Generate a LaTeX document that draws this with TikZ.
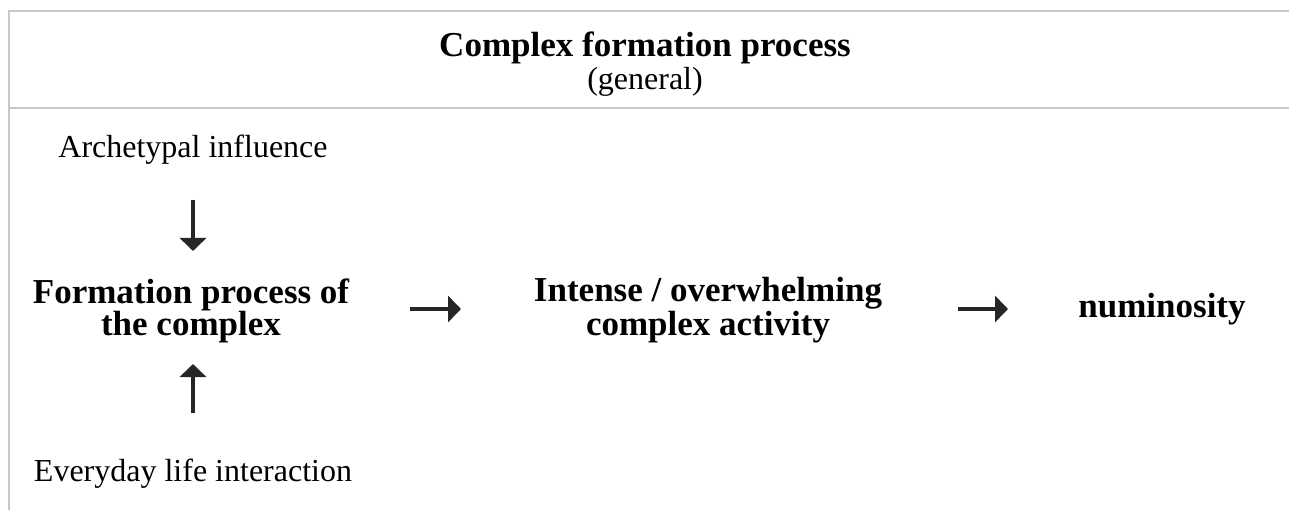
\documentclass[tikz,border=0pt]{standalone}
\usepackage{fontspec}
\setmainfont{Liberation Serif}
\usetikzlibrary{arrows.meta}
\definecolor{rulegray}{HTML}{C8C8C8}
\definecolor{arrowdark}{HTML}{262626}
\tikzset{
  rule/.style={draw=rulegray, line width=1.3pt},
  flow/.style={draw=arrowdark, line width=4pt, -{Triangle[width=26pt,length=13pt]}},
  boldtxt/.style={font=\fontsize{35}{32}\selectfont\bfseries, align=center, inner sep=0pt, text height=24pt, text depth=8pt},
  regtxt/.style={font=\fontsize{32}{32}\selectfont, align=center, inner sep=0pt, text height=23pt, text depth=7pt},
}
\begin{document}
\begin{tikzpicture}[x=1pt,y=-1pt]
\useasboundingbox (0,0) rectangle (1289,510);
% table rules
\coordinate (tl) at (8,11);
\coordinate (tr) at (1289,11);
\coordinate (dl) at (9,108);
\coordinate (dr) at (1289,108);
\coordinate (bl) at (9,510);
\draw[rule] (tr) -- (tl);
\draw[rule] (9,10.4) -- (bl);
\draw[rule] (dl) -- (dr);
% header
\node[boldtxt, text depth=2pt] (title) at (645,46) {Complex formation process};
\node[regtxt, text height=20pt] (general) at (645,83.5) {(general)};
% body
\node[regtxt] (arch) at (193,150) {Archetypal influence};
\node[boldtxt] (form) at (191,327) {Formation process of\\the complex};
\node[boldtxt] (intense) at (708,327) {Intense / overwhelming\\complex activity};
\node[boldtxt] (numin) at (1162,309) {numinosity};
\node[regtxt] (every) at (193,473) {Everyday life interaction};
% arrow end points
\coordinate (d1) at (193,200);
\coordinate (d2) at (193,251);
\coordinate (u1) at (193,413);
\coordinate (u2) at (193,364);
\coordinate (r1) at (410,309);
\coordinate (r2) at (461,309);
\coordinate (s1) at (958,309);
\coordinate (s2) at (1008,309);
\draw[flow] (d1) -- (d2);
\draw[flow] (u1) -- (u2);
\draw[flow] (r1) -- (r2);
\draw[flow] (s1) -- (s2);
\end{tikzpicture}
\end{document}
